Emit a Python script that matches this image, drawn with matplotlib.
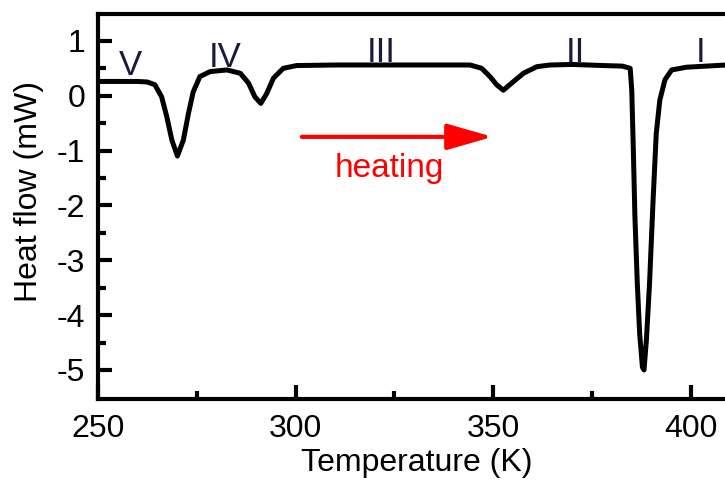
import matplotlib
matplotlib.use('Agg')
import matplotlib.pyplot as plt

# DSC heating curve
temperature = [250, 255, 260, 262.5, 264.4, 266.1, 267.4, 268.7, 270.1, 271.6,
               272.9, 274.1, 275.8, 278.4, 282.6, 286.0, 288.1, 289.7, 291.2, 292.7,
               294.4, 296.9, 300.3, 310, 320, 330, 340, 344.2, 347.1, 349.2,
               350.9, 352.6, 354.7, 357.7, 361.1, 364.4, 370, 378, 382.7, 384.7,
               385.1, 385.5, 385.9, 386.5, 387.1, 387.8, 388.2, 388.8, 389.6, 390.5,
               391.3, 392.2, 393.5, 395.2, 399.0, 404, 409]
heat_flow = [0.26, 0.26, 0.26, 0.25, 0.20, -0.02, -0.38, -0.81, -1.10, -0.81,
             -0.32, 0.07, 0.35, 0.44, 0.47, 0.41, 0.23, -0.02, -0.14, 0.04,
             0.32, 0.50, 0.55, 0.56, 0.56, 0.56, 0.56, 0.56, 0.50, 0.35,
             0.20, 0.10, 0.23, 0.41, 0.53, 0.56, 0.57, 0.55, 0.54, 0.50,
             0.10, -0.99, -2.21, -3.42, -4.34, -4.95, -5.0, -4.46, -3.42, -1.90,
             -0.69, -0.08, 0.29, 0.47, 0.52, 0.54, 0.56]

phase_labels = ['V', 'IV', 'III', 'II', 'I']
phase_x = [258.1, 282.2, 321.6, 370.8, 402.4]
phase_y = [0.38, 0.53, 0.62, 0.62, 0.62]

x_ticks = [250, 300, 350, 400]
y_ticks = [1, 0, -1, -2, -3, -4, -5]

plt.rcParams['font.family'] = ['Liberation Sans', 'DejaVu Sans']

fig = plt.figure(figsize=(7.25, 4.82), dpi=100)
ax = fig.add_axes([98 / 725, 1 - 399 / 482, 1 - 98 / 725, (399 - 14) / 482])

ax.plot(temperature, heat_flow, color='black', linewidth=3.6,
        solid_joinstyle='round', solid_capstyle='round')

ax.set_xlim(250, 408.7)
ax.set_ylim(-5.53, 1.49)

ax.set_xticks(x_ticks)
ax.set_xticks([275, 325, 375], minor=True)
ax.set_yticks(y_ticks)
ax.set_yticks([0.5, -0.5, -1.5, -2.5, -3.5, -4.5], minor=True)
ax.set_yticklabels([str(v) if v >= 0 else '-' + str(-v) for v in y_ticks])

ax.tick_params(which='major', direction='in', length=10, width=3, labelsize=23)
ax.tick_params(which='minor', direction='in', length=6, width=3)
ax.tick_params(axis='x', which='major', pad=11)
ax.tick_params(axis='y', which='major', pad=9)

for side in ['left', 'bottom', 'top']:
    ax.spines[side].set_linewidth(3)
ax.spines['right'].set_visible(False)

ax.set_xlabel('Temperature (K)', fontsize=23, labelpad=3, x=0.508)
ax.set_ylabel('Heat flow (mW)', fontsize=23, labelpad=9, y=0.538)

for lab, px, py in zip(phase_labels, phase_x, phase_y):
    ax.text(px, py, lab, fontsize=25, family=['Liberation Sans Narrow', 'Liberation Sans'],
            color='#1a1a3a', ha='center', va='baseline')

ax.annotate('', xy=(349.9, -0.75), xytext=(301.6, -0.75),
            arrowprops=dict(arrowstyle='-|>,head_length=1.4,head_width=0.4',
                            color='red', lw=3, mutation_scale=20,
                            shrinkA=0, shrinkB=0))
ax.text(310.0, -1.48, 'heating', color='red', fontsize=24, ha='left', va='baseline')

plt.savefig('out.png', dpi=100)
